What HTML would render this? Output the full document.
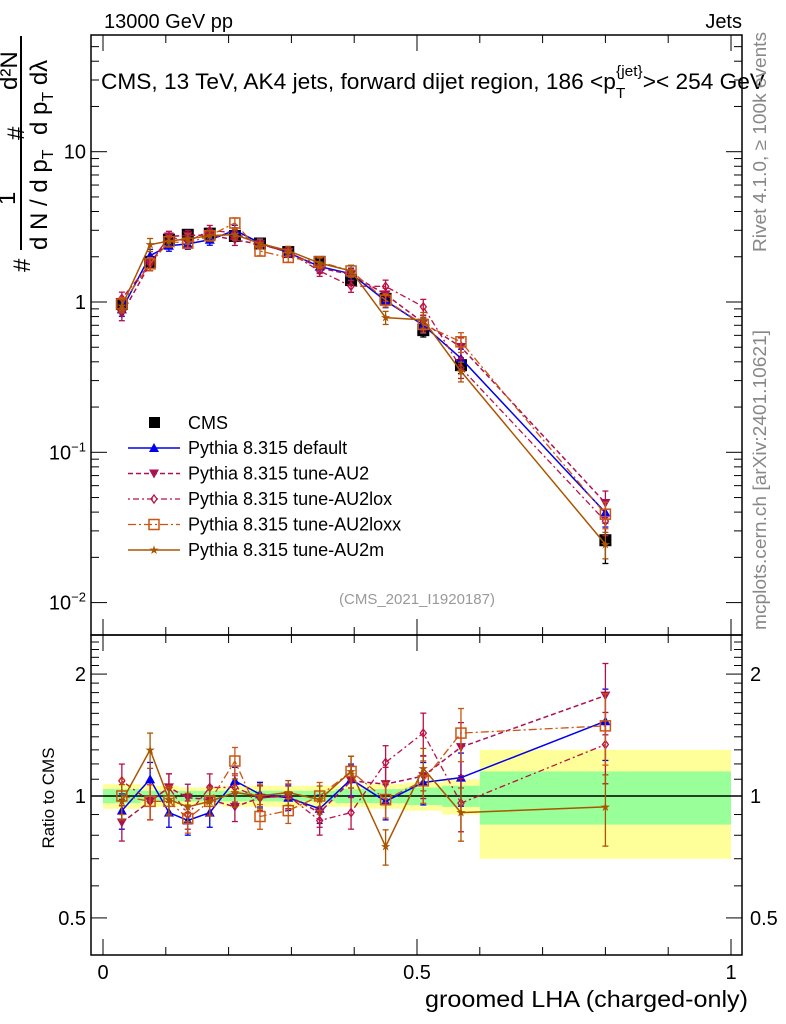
<!DOCTYPE html>
<html><head><meta charset="utf-8"><style>
body{margin:0;background:#fff;}
svg{display:block;font-family:"Liberation Sans",sans-serif;}
</style></head><body>
<svg id="c" width="786" height="1024" viewBox="0 0 786 1024">
<g id="bands"></g>
<g id="marks"></g>
<g id="axes"></g>
<text x="104" y="28" font-size="20">13000 GeV pp</text>
<text x="742" y="28" font-size="20" text-anchor="end">Jets</text>
<text x="101" y="89" font-size="22" textLength="664" lengthAdjust="spacingAndGlyphs">CMS, 13 TeV, AK4 jets, forward dijet region, 186 &lt;p<tspan font-size="15" dy="9">T</tspan><tspan font-size="15" dy="-22" dx="-9">{jet}</tspan><tspan dy="13">&gt;&lt; 254 GeV</tspan></text>
<text transform="translate(766,252) rotate(-90)" font-size="18" textLength="220" lengthAdjust="spacingAndGlyphs" fill="#888">Rivet 4.1.0, ≥ 100k events</text>
<text transform="translate(766,630) rotate(-90)" font-size="18" textLength="300" lengthAdjust="spacingAndGlyphs" fill="#888">mcplots.cern.ch [arXiv:2401.10621]</text>
<text x="417" y="604" font-size="15" fill="#999" text-anchor="middle">(CMS_2021_I1920187)</text>
<g font-size="24">
 <text transform="translate(30,272) rotate(-90)">#</text>
 <line x1="21" y1="36" x2="21" y2="250" stroke="#000" stroke-width="2"/>
 <text transform="translate(15,205) rotate(-90)">1</text>
 <text transform="translate(47,250) rotate(-90)">d N / d p<tspan font-size="16" dy="6">T</tspan></text>
 <text transform="translate(24,140) rotate(-90)">#</text>
 <text transform="translate(47,135) rotate(-90)">d p<tspan font-size="16" dy="6">T</tspan><tspan dy="-6">  d</tspan>λ</text>
 <text transform="translate(17,90) rotate(-90)">d²N</text>
</g>
<text x="54" y="798" font-size="17" transform="rotate(-90 54 798)" text-anchor="middle">Ratio to CMS</text>
<text x="748" y="1007" font-size="23" text-anchor="end" textLength="323" lengthAdjust="spacingAndGlyphs">groomed LHA (charged-only)</text>
<g id="legend"></g>
</svg>
<script>
const xCenters=[0.03,0.075,0.105,0.135,0.17,0.21,0.25,0.295,0.345,0.395,0.45,0.51,0.57,0.8];
const binEdges=[0,0.06,0.09,0.12,0.15,0.19,0.23,0.27,0.32,0.37,0.42,0.48,0.54,0.6,1.0];
const cmsValues=[0.97,1.85,2.6,2.8,2.85,2.75,2.45,2.15,1.85,1.4,1.05,0.65,0.38,0.026];
const cmsErrRel=[0.08,0.07,0.06,0.06,0.06,0.06,0.06,0.06,0.07,0.08,0.08,0.1,0.12,0.3];
const bandGreen=[0.04,0.03,0.03,0.03,0.03,0.03,0.03,0.03,0.03,0.04,0.04,0.05,0.06,0.15];
const bandYellow=[0.07,0.06,0.06,0.05,0.05,0.06,0.06,0.06,0.06,0.06,0.07,0.08,0.1,0.3];
const ratioDefault=[0.92,1.10,0.91,0.87,0.91,1.09,1.01,0.99,0.93,1.10,0.97,1.08,1.11,1.53];
const ratioAU2=[0.86,0.97,1.05,0.99,0.98,0.94,0.99,1.0,0.91,1.09,1.07,1.12,1.32,1.77];
const ratioAU2lox=[1.09,0.97,1.05,0.90,1.05,1.05,0.99,1.0,0.87,0.91,1.21,1.43,0.96,1.34];
const ratioAU2loxx=[1.0,0.97,0.97,0.88,0.97,1.22,0.89,0.92,1.0,1.15,0.98,1.09,1.43,1.49];
const ratioAU2m=[0.97,1.30,0.98,0.94,0.97,1.02,1.0,1.02,0.98,1.15,0.75,1.17,0.91,0.94];
const modelErrRel=[0.1,0.1,0.08,0.08,0.08,0.08,0.07,0.07,0.08,0.09,0.1,0.12,0.15,0.2];

const NS='http://www.w3.org/2000/svg';
const X0=103,X1=731,L=91,R=742,T=35,M=635,B=955;
const xs=v=>X0+(X1-X0)*v;
const ys=v=>302-150.3*Math.log10(v);
const yr=v=>796-405*Math.log10(v);
function el(tag,a,p){const e=document.createElementNS(NS,tag);for(const k in a)e.setAttribute(k,a[k]);p.appendChild(e);return e;}
const bands=document.getElementById('bands'),marks=document.getElementById('marks'),axes=document.getElementById('axes'),leg=document.getElementById('legend');

for(let i=0;i<xCenters.length;i++){
 const x0=xs(binEdges[i]),x1=xs(binEdges[i+1]);
 const y=el('rect',{x:x0,y:yr(1+bandYellow[i]),width:x1-x0,height:yr(1-bandYellow[i])-yr(1+bandYellow[i]),fill:'#ffff99'},bands);
 
 
 const g=el('rect',{x:x0,y:yr(1+bandGreen[i]),width:x1-x0,height:yr(1-bandGreen[i])-yr(1+bandGreen[i]),fill:'#99ff99'},bands);
 
 
}
const one=el('line',{x1:L,x2:R,y1:yr(1),y2:yr(1),stroke:'#000','stroke-width':1.5},bands);



function marker(type,x,y,c,p){
 let e;
 if(type==='tri')e=el('path',{d:`M${x},${y-5}L${x+5},${y+4}L${x-5},${y+4}Z`,fill:c},p);
 else if(type==='tridn')e=el('path',{d:`M${x},${y+5}L${x+5},${y-4}L${x-5},${y-4}Z`,fill:c},p);
 else if(type==='dia')e=el('path',{d:`M${x},${y-4}L${x+3},${y}L${x},${y+4}L${x-3},${y}Z`,fill:'none',stroke:c,'stroke-width':1.3},p);
 else if(type==='sq')e=el('rect',{x:x-5,y:y-5,width:10,height:10,fill:'none',stroke:c,'stroke-width':1.5},p);
 else if(type==='star')e=el('text',{x:x,y:y+4,'font-size':12,'text-anchor':'middle',fill:c},p),e.textContent='★';
 else if(type==='fsq')e=el('rect',{x:x-6,y:y-6,width:12,height:12,fill:'#000'},p);
 return e;
}
const series=[
 {name:'Pythia 8.315 default',r:ratioDefault,c:'#0000ee',m:'tri',dash:'',w:1.5,key:'default'},
 {name:'Pythia 8.315 tune-AU2',r:ratioAU2,c:'#aa1155',m:'tridn',dash:'5,3',w:1.5,key:'au2'},
 {name:'Pythia 8.315 tune-AU2lox',r:ratioAU2lox,c:'#bb1144',m:'dia',dash:'2,3,6,3',w:1.3,key:'au2lox'},
 {name:'Pythia 8.315 tune-AU2loxx',r:ratioAU2loxx,c:'#cc5511',m:'sq',dash:'8,3,2,3',w:1.3,key:'au2loxx'},
 {name:'Pythia 8.315 tune-AU2m',r:ratioAU2m,c:'#aa5500',m:'star',dash:'',w:1.5,key:'au2m'}
];
function errbar(x,y1,y2,c,p){el('line',{x1:x,x2:x,y1:y1,y2:y2,stroke:c,'stroke-width':1.3},p);el('line',{x1:x-3,x2:x+3,y1:y1,y2:y1,stroke:c,'stroke-width':1.3},p);el('line',{x1:x-3,x2:x+3,y1:y2,y2:y2,stroke:c,'stroke-width':1.3},p);}

const cg=el('g',{},marks);


cmsValues.forEach((v,i)=>{const x=xs(xCenters[i]);errbar(x,ys(v*(1+cmsErrRel[i])),ys(v*(1-cmsErrRel[i])),'#000',cg);const m=marker('fsq',x,ys(v),'#000',cg);});

series.forEach(s=>{
 const g=el('g',{},marks);
 
 
 const vals=s.r.map((r,i)=>r*cmsValues[i]);
 const pts=vals.map((v,i)=>xs(xCenters[i])+','+ys(v)).join(' ');
 const rpts=s.r.map((v,i)=>xs(xCenters[i])+','+yr(v)).join(' ');
 el('polyline',{points:pts,fill:'none',stroke:s.c,'stroke-width':s.w,'stroke-dasharray':s.dash},g);
 el('polyline',{points:rpts,fill:'none',stroke:s.c,'stroke-width':s.w,'stroke-dasharray':s.dash},g);
 vals.forEach((v,i)=>{const x=xs(xCenters[i]);const e=modelErrRel[i];
  errbar(x,ys(v*(1+e)),ys(v*(1-e)),s.c,g);
  const m=marker(s.m,x,ys(v),s.c,g);
  const r=s.r[i];
  errbar(x,yr(r*(1+e)),yr(r*(1-e)),s.c,g);
  const m2=marker(s.m,x,yr(r),s.c,g);
 });
});

el('rect',{x:149,y:417,width:11,height:11,fill:'#000'},leg);
const lt=el('text',{x:188,y:429,'font-size':18},leg);lt.textContent='CMS';


series.forEach((s,i)=>{const y=448+i*25.5;
 el('line',{x1:128,x2:180,y1:y,y2:y,stroke:s.c,'stroke-width':s.w,'stroke-dasharray':s.dash},leg);
 marker(s.m,154,y,s.c,leg);
 const t=el('text',{x:188,y:y+6,'font-size':18},leg);t.textContent=s.name;
 
 
});

el('rect',{x:L,y:T,width:R-L,height:M-T,fill:'none',stroke:'#000','stroke-width':1.5},axes);
el('rect',{x:L,y:M,width:R-L,height:B-M,fill:'none',stroke:'#000','stroke-width':1.5},axes);
for(let d=-2;d<=1;d++)for(let k=1;k<10;k++){const v=k*Math.pow(10,d);const y=ys(v);if(y<T||y>M)continue;const len=k===1?16:8;
 el('line',{x1:L,x2:L+len,y1:y,y2:y,stroke:'#000'},axes);el('line',{x1:R,x2:R-len,y1:y,y2:y,stroke:'#000'},axes);}
const mainLabels=[[10,'10'],[1,'1'],[0.1,'10<tspan font-size="13" dy="-8">−1</tspan>'],[0.01,'10<tspan font-size="13" dy="-8">−2</tspan>']];
mainLabels.forEach(([v,s])=>{const t=el('text',{x:L-5,y:ys(v)+7,'font-size':20,'text-anchor':'end'},axes);t.innerHTML=s;});
[0.4,0.5,0.6,0.7,0.8,0.9,1,1.1,1.2,1.3,1.4,1.5,1.6,1.7,1.8,1.9,2,2.1,2.2,2.3,2.4].forEach(v=>{const y=yr(v);if(y<M||y>B)return;const big=(v===0.5||v===1||v===2);const len=big?16:8;
 el('line',{x1:L,x2:L+len,y1:y,y2:y,stroke:'#000'},axes);el('line',{x1:R,x2:R-len,y1:y,y2:y,stroke:'#000'},axes);});
[[2,'2'],[1,'1'],[0.5,'0.5']].forEach(([v,s])=>{
 const t=el('text',{x:L-5,y:yr(v)+7,'font-size':20,'text-anchor':'end'},axes);t.textContent=s;
 const t2=el('text',{x:R+8,y:yr(v)+7,'font-size':20},axes);t2.textContent=s;});
for(let i=0;i<=10;i++){const v=i/10;const x=xs(v);const len=(i%5===0)?16:8;
 [[T,1],[M,-1],[M,1],[B,-1]].forEach(([y,dir])=>el('line',{x1:x,x2:x,y1:y,y2:y+dir*len,stroke:'#000'},axes));}
[[0,'0'],[0.5,'0.5'],[1,'1']].forEach(([v,s])=>{const t=el('text',{x:xs(v),y:979,'font-size':20,'text-anchor':'middle'},axes);t.textContent=s;});
</script>
</body></html>
